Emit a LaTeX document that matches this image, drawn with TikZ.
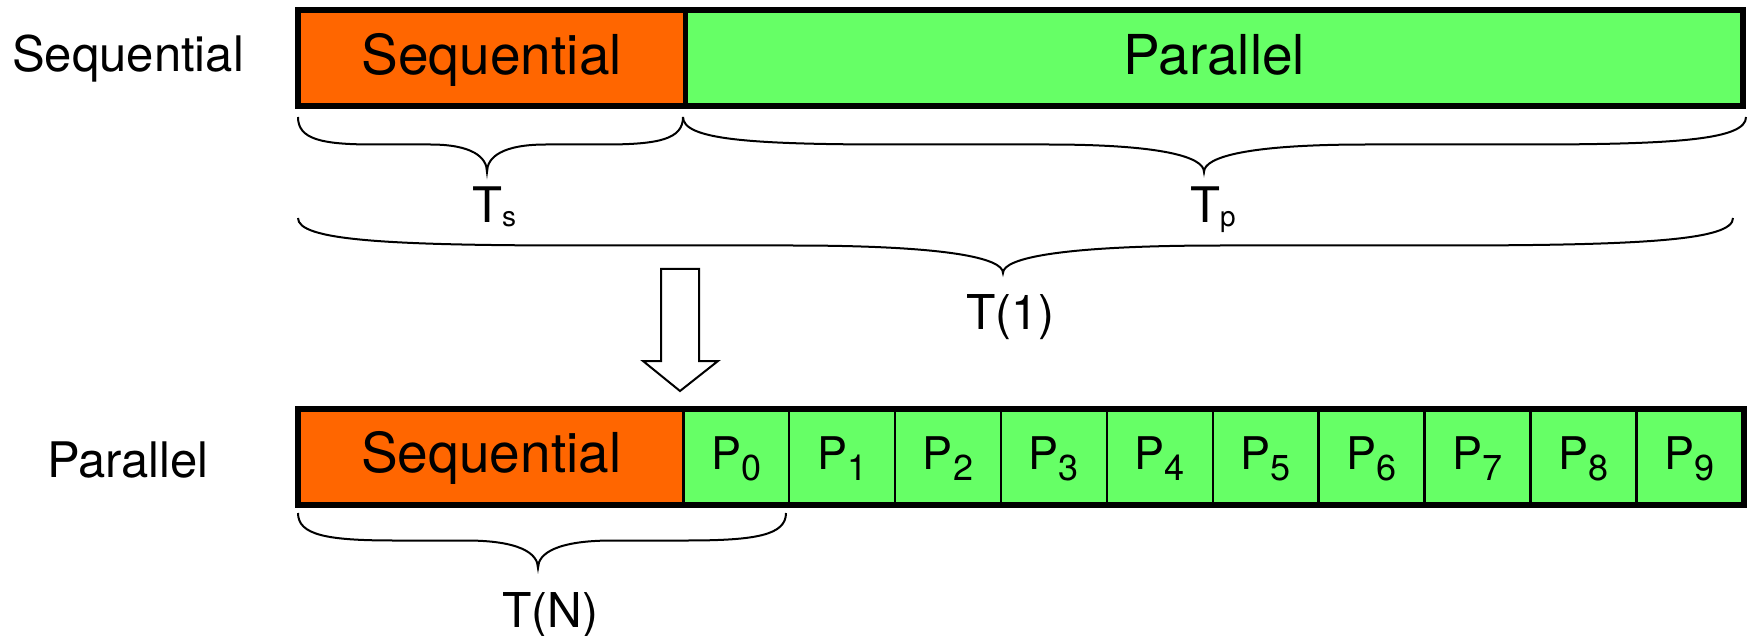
\documentclass[tikz,border=0pt]{standalone}
\usepackage{fontspec}
\setmainfont{TeX Gyre Heros}
\definecolor{seqorange}{RGB}{255,102,0}
\definecolor{pargreen}{RGB}{102,255,102}

\begin{document}
\begin{tikzpicture}[x=1pt,y=-1pt,
  cell/.style={draw=black, line width=2.5pt, inner sep=0pt, anchor=north west},
  seqcell/.style={cell, fill=seqorange, text height=40pt, text depth=8pt,
    font=\fontsize{55}{55}\selectfont},
  parcell/.style={cell, fill=pargreen, text height=40pt, text depth=8pt,
    font=\fontsize{55}{55}\selectfont},
  pcell/.style={cell, fill=pargreen, minimum width=105.9pt, minimum height=93pt,
    text height=36pt, text depth=11pt, font=\fontsize{45}{45}\selectfont},
  rowlabel/.style={anchor=base, inner sep=0pt, font=\fontsize{49}{49}\selectfont},
  timelabel/.style={anchor=base west, inner sep=0pt, font=\fontsize{48}{48}\selectfont},
  brace/.style={line width=2pt}]

\newcommand\BH{55}
\newcommand\sub[3]{\raisebox{-#2pt}{\fontsize{#1}{#1}\selectfont #3}}
\newcommand\Brace[4]{%
  \draw[brace] (#1,#4) .. controls (#1,#4+22) and ({#1+0.12*(#2-#1)},#4+\BH/2)
  .. ({#1+0.4*(#2-#1)},#4+\BH/2) -- ({#2-0.3*(#2-#1)},#4+\BH/2)
  .. controls ({#2-0.08*(#2-#1)},#4+\BH/2) and (#2,#4+40) .. (#2,#4+\BH)
  .. controls (#2,#4+40) and ({#2+0.08*(#3-#2)},#4+\BH/2)
  .. ({#2+0.3*(#3-#2)},#4+\BH/2) -- ({#3-0.4*(#3-#2)},#4+\BH/2)
  .. controls ({#3-0.12*(#3-#2)},#4+\BH/2) and (#3,#4+22) .. (#3,#4);}

  \useasboundingbox (0,0) rectangle (1751,636);

  %% sequential run
  \node[rowlabel] (lblseq) at (128,72) {Sequential};
  \node[seqcell, minimum width=385pt, minimum height=94pt] (seqA) at (298,10) {Sequential};
  \node[parcell, minimum width=1055pt, minimum height=94pt] (parA) at (seqA.north east) {Parallel};
  \draw[line width=6pt] (seqA.north west) rectangle (parA.south east);

  %% parallel run
  \node[rowlabel] (lblpar) at (128,477) {Parallel};
  \node[seqcell, minimum width=384pt, minimum height=93pt] (seqB) at (298,409) {Sequential};
  \foreach \i in {0,...,9}
    \node[pcell] (p\i) at ({682+105.9*\i},409) {P\sub{36}{11}{\i}};
  \draw[line width=6pt] (seqB.north west) rectangle (p9.south east);

  %% braces
  \Brace{298}{487}{683}{117}   %% Ts
  \Brace{683}{1204}{1746}{117} %% Tp
  \Brace{298}{1003}{1733}{218} %% T(1)
  \Brace{298}{538}{786}{513}   %% T(N)

  %% times
  \node[timelabel, font=\fontsize{49}{49}\selectfont] (ts) at (472,223) {T\sub{28}{4}{s}};
  \node[timelabel, font=\fontsize{49}{49}\selectfont] (tp) at (1190,223) {T\sub{28}{4}{p}};
  \node[timelabel] (tone) at (966,330) {T(1)};
  \node[timelabel] (tn) at (502,627) {T(N)};

  %% block arrow
  \draw[line width=2pt, fill=white, line join=miter]
  (661,269) -- (699,269) -- (699,361) -- (718,361) -- (680,391)
  -- (643,361) -- (661,361) -- cycle;

\end{tikzpicture}
\end{document}
